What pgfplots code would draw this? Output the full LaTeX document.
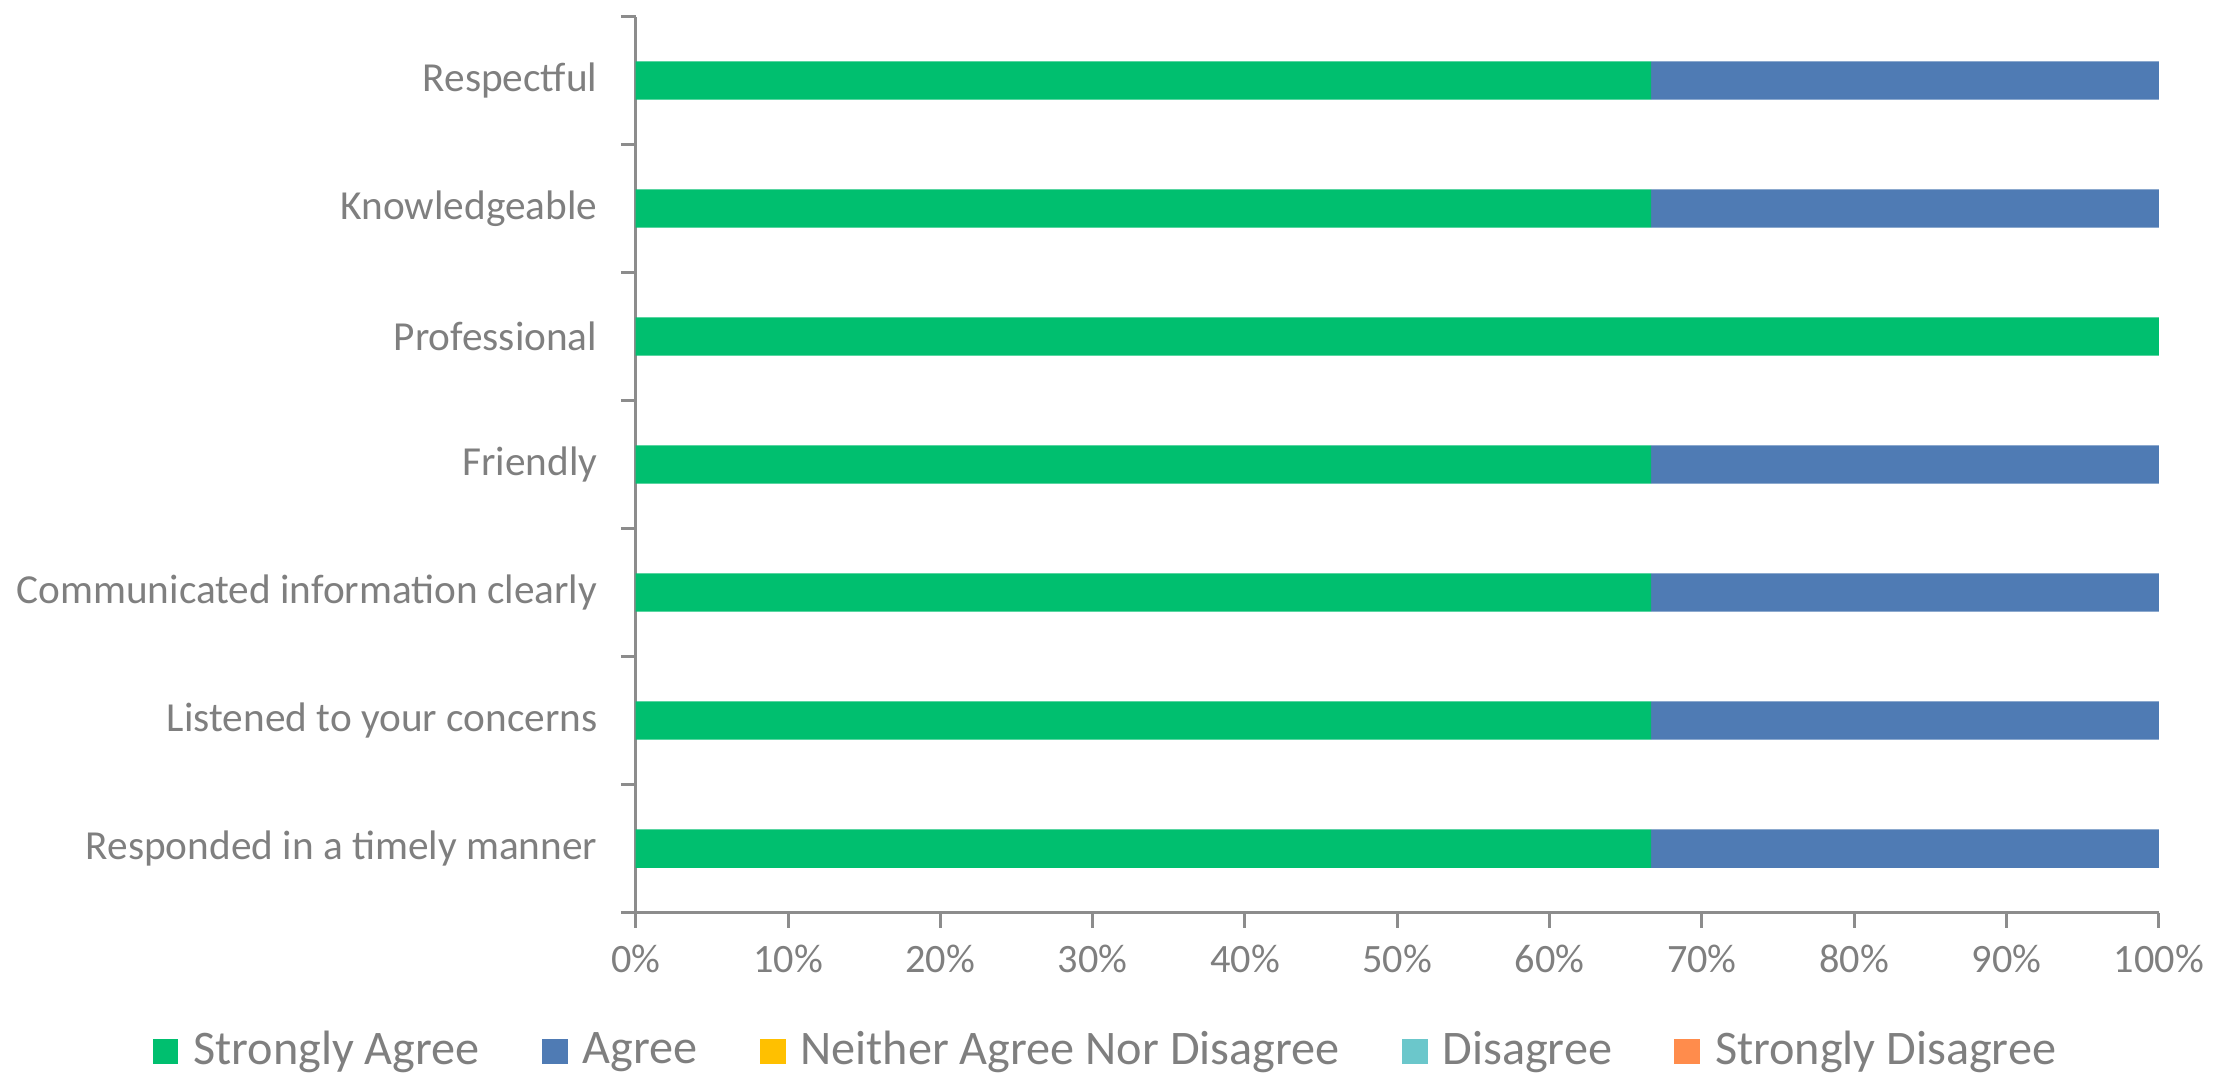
\documentclass[border=0pt]{standalone}
\usepackage{pgfplots}
\pgfplotsset{compat=1.18}
\usepackage{fontspec}
\setmainfont{Carlito}
\definecolor{sagree}{HTML}{00BF6F}
\definecolor{agree}{HTML}{4F7BB4}
\definecolor{neither}{HTML}{FFC000}
\definecolor{disagree}{HTML}{6BC7CB}
\definecolor{sdisagree}{HTML}{FF8C4C}
\definecolor{txt}{HTML}{7F7F7F}
\definecolor{axl}{HTML}{8C8C8C}

\begin{document}
\begin{tikzpicture}
% page frame, same proportions as the reference
\path (-125.4pt,-33.5pt) rectangle (320.8pt,183.1pt);
\begin{axis}[
  at={(0,0)}, anchor=south west,
  scale only axis, width=306.3pt, height=180.2pt,
  xbar stacked, bar width=7.7pt,
  xmin=0, xmax=100, ymin=-0.5, ymax=6.5,
  axis x line*=bottom, axis y line*=left,
  axis line style={axl, line width=0.6pt},
  tick align=outside, major tick length=3pt,
  tick style={axl, line width=0.6pt},
  xtick={0,10,...,100},
  /pgf/number format/assume math mode=true,
  xticklabel={\pgfmathprintnumber{\tick}\%},
  x tick label style={font=\fontsize{8.1}{10}\selectfont, text=txt},
  ytick={-0.5,0.5,...,6.5}, yticklabels={},
  extra y ticks={0,1,2,3,4,5,6},
  extra y tick labels={Responded in a timely manner, Listened to your concerns, Communicated information clearly, Friendly, Professional, Knowledgeable, Respectful},
  extra y tick style={tick style={draw=none}},
  y tick label style={font=\fontsize{8.3}{10}\selectfont, text=txt, xshift=-1.2pt},
  legend style={at={(0.311,-0.155)}, anchor=center, draw=none, fill=none,
    legend columns=-1, font=\fontsize{9.7}{12}\selectfont, text=txt,
    /tikz/every even column/.append style={column sep=10.5pt}},
  legend image code/.code={\fill[#1] (0pt,-2.6pt) rectangle (5.2pt,2.6pt); \path (6.2pt,0pt);},
]
\addplot[fill=sagree, draw=none] coordinates {
  (66.67,0) (66.67,1) (66.67,2) (66.67,3) (100,4) (66.67,5) (66.67,6)};
\addplot[fill=agree, draw=none] coordinates {
  (33.33,0) (33.33,1) (33.33,2) (33.33,3) (0,4) (33.33,5) (33.33,6)};
\addplot[fill=neither, draw=none] coordinates {
  (0,0) (0,1) (0,2) (0,3) (0,4) (0,5) (0,6)};
\addplot[fill=disagree, draw=none] coordinates {
  (0,0) (0,1) (0,2) (0,3) (0,4) (0,5) (0,6)};
\addplot[fill=sdisagree, draw=none] coordinates {
  (0,0) (0,1) (0,2) (0,3) (0,4) (0,5) (0,6)};
\legend{Strongly Agree, Agree, Neither Agree Nor Disagree, Disagree, Strongly Disagree}
\end{axis}
\end{tikzpicture}
\end{document}
